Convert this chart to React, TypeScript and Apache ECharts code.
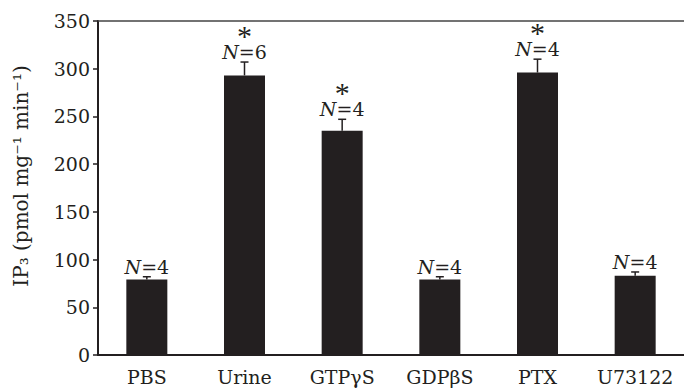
import React, { useEffect, useRef } from "react";
import * as echarts from "echarts";

const categories = ["PBS", "Urine", "GTPγS", "GDPβS", "PTX", "U73122"];
const means = [79, 293, 235, 79, 296, 83];
const errors = [3, 14, 12, 3, 14, 4];
const nValues = [4, 6, 4, 4, 4, 4];
const significant = [false, true, true, false, true, false];
const yTicks = { min: 0, max: 350, interval: 50 };

const FONT = "'DejaVu Serif', 'Liberation Serif', serif";
const STAR_FONT = "'Liberation Serif', 'Times New Roman', serif";
const INK = "#231f20";

export default function App() {
  const ref = useRef<HTMLDivElement>(null);
  useEffect(() => {
    if (!ref.current) return;
    const chart = echarts.init(ref.current, undefined, { renderer: "svg" });
    const customData = categories.map((_, i) => [i, means[i], errors[i], nValues[i], significant[i] ? 1 : 0]);
    chart.setOption({
      animation: false,
      grid: { left: 98, top: 21, width: 591, bottom: 33 },
      xAxis: [
        {
          type: "category",
          data: categories,
          axisLine: { lineStyle: { color: INK, width: 2 } },
          axisTick: { show: false },
          axisLabel: { color: INK, fontFamily: FONT, fontSize: 19, margin: 12, interval: 0 },
        },
        {
          type: "category",
          data: categories,
          position: "top",
          axisLine: { lineStyle: { color: "#444", width: 1.5 } },
          axisTick: { show: false },
          axisLabel: { show: false },
        },
      ],
      yAxis: {
        type: "value",
        min: yTicks.min,
        max: yTicks.max,
        interval: yTicks.interval,
        axisLine: { show: true, lineStyle: { color: INK, width: 2 } },
        axisTick: { show: true, length: 5, lineStyle: { color: INK, width: 1.5 } },
        splitLine: { show: false },
        axisLabel: { color: INK, fontFamily: FONT, fontSize: 19, margin: 8 },
      },
      graphic: [
        {
          type: "text",
          x: 21,
          y: 176,
          rotation: Math.PI / 2,
          style: {
            text: "IP₃ (pmol mg⁻¹ min⁻¹)",
            font: `20px ${FONT}`,
            fill: INK,
            align: "center",
            verticalAlign: "middle",
          },
        },
      ],
      series: [
        {
          type: "bar",
          data: means,
          barWidth: 41,
          itemStyle: { color: INK },
        },
        {
          type: "custom",
          data: customData,
          z: 10,
          renderItem: (params: any, api: any) => {
            const idx = api.value(0);
            const m = api.value(1);
            const e = api.value(2);
            const n = api.value(3);
            const sig = api.value(4);
            const base = api.coord([idx, m]);
            const top = api.coord([idx, m + e]);
            const x = base[0];
            const label = `{i|N}{r|=${n}}`;
            return {
              type: "group",
              children: [
                {
                  type: "line",
                  shape: { x1: x, y1: base[1], x2: x, y2: top[1] },
                  style: { stroke: INK, lineWidth: 1.5 },
                },
                {
                  type: "line",
                  shape: { x1: x - 4, y1: top[1], x2: x + 4, y2: top[1] },
                  style: { stroke: INK, lineWidth: 1.5 },
                },
                {
                  type: "text",
                  x: x,
                  y: top[1] + 1,
                  style: {
                    text: sig ? `{s|*}\n${label}` : label,
                    align: "center",
                    verticalAlign: "bottom",
                    fill: INK,
                    rich: {
                      s: { fontFamily: STAR_FONT, fontSize: 30, lineHeight: 12, fill: INK, color: INK },
                      i: { fontStyle: "italic", fontFamily: FONT, fontSize: 19, lineHeight: 22, fill: INK, color: INK },
                      r: { fontFamily: FONT, fontSize: 19, lineHeight: 22, fill: INK, color: INK },
                    },
                  },
                },
              ],
            };
          },
        },
      ],
    });
    return () => chart.dispose();
  }, []);
  return (
    <div
      ref={ref}
      style={{ position: "fixed", left: 0, top: 0, width: 684, height: 388, background: "#fff" }}
    />
  );
}
